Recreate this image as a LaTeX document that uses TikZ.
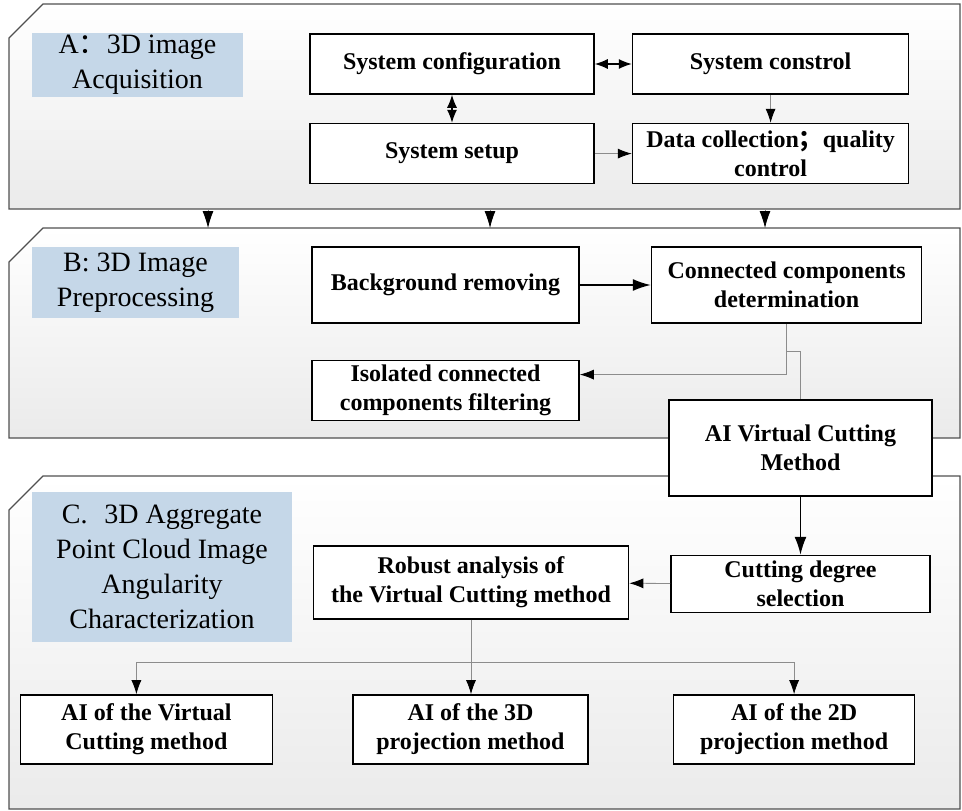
\documentclass[tikz,border=0pt]{standalone}
\usepackage{fontspec}
\setmainfont{Liberation Serif}
\newfontfamily\cjk{Noto Sans CJK SC}
\usetikzlibrary{positioning}
\usetikzlibrary{arrows.meta}
\usetikzlibrary{calc}
\definecolor{panelline}{RGB}{80,80,80}
\definecolor{labfill}{RGB}{197,215,232}
\definecolor{wiregray}{RGB}{140,140,140}

\begin{document}
\begin{tikzpicture}[x=1pt, y=-1pt,
	panel/.style={draw=panelline, line width=1.3pt, top color=white, bottom color=black!8},
	tag/.style={fill=labfill, align=center, inner sep=0pt, font=\fontsize{28}{35}\selectfont},
	box/.style={draw, fill=white, line width=1.6pt, align=center, inner sep=0pt, font=\fontsize{24}{29}\selectfont\bfseries},
	wire/.style={draw=wiregray, line width=0.8pt, -{Latex[length=14pt, width=10pt, color=black]}},
	plain/.style={draw=wiregray, line width=0.8pt},
	drop/.style={draw=wiregray, line width=0.8pt, -{Latex[length=17pt, width=11pt, color=black]}},
	strong/.style={line width=1.6pt, -{Latex[length=18pt, width=12pt]}},
	both/.style={line width=1.2pt, {Latex[length=13pt, width=10pt]}-{Latex[length=13pt, width=10pt]}}]
	\useasboundingbox (0,0) rectangle (962,811);
	% panels
	\path[panel] (9,38) -- (43,4) -- (960,4) -- (960,209) -- (9,209) -- cycle;
	\path[panel] (9,262) -- (43,228) -- (960,228) -- (960,438) -- (9,438) -- cycle;
	\path[panel] (9,510) -- (43,476) -- (960,476) -- (960,809) -- (9,809) -- cycle;
	\coordinate (pAbot) at (0,209);
	\node[tag, minimum width=211pt, minimum height=64pt] (tA) at (137.5,65) {A{\cjk ：}3D image\\Acquisition};
	\node[tag, minimum width=207pt, minimum height=71pt] (tB) at (135.5,282.5) {B: 3D Image\\Preprocessing};
	\node[tag, minimum width=260pt, minimum height=150pt] (tC) at (162,567) {C.\hspace{0.6em}3D Aggregate\\Point Cloud Image\\Angularity\\Characterization};
	% A
	\node[box, minimum width=284pt, minimum height=60pt] (conf) at (452,64) {System configuration};
	\node[box, minimum width=276pt, minimum height=60pt, right=37pt of conf] (ctrl) {System constrol};
	\node[box, minimum width=284pt, minimum height=60pt, below=28pt of conf] (setup) {System setup};
	\node[box, minimum width=276pt, minimum height=60pt, below=28pt of ctrl] (datacol) {Data collection{\cjk ；}quality\\control};
	% B
	\node[box, minimum width=267pt, minimum height=76pt] (bgrem) at (445.5,285) {Background removing};
	\node[box, minimum width=270pt, minimum height=76pt, right=71pt of bgrem] (conncomp) {Connected components\\determination};
	\node[box, minimum width=267pt, minimum height=60pt, below=36pt of bgrem] (isolated) {Isolated connected\\components filtering};
	\node[box, minimum width=263pt, minimum height=96pt] (aivc) at (800.5,448) {AI Virtual Cutting\\Method};
	% C
	\node[box, minimum width=259pt, minimum height=57pt, below=58pt of aivc] (cutdeg) {Cutting degree\\selection};
	\node[box, minimum width=315pt, minimum height=73pt] (robust) at (471,582.5) {Robust analysis of\\the Virtual Cutting method};
	\node[box, minimum width=235pt, minimum height=69pt] (ai3d) at (470.5,729.5) {AI of the 3D\\projection method};
	\node[box, minimum width=252pt, minimum height=69pt, left=79pt of ai3d] (aivcm) {AI of the Virtual\\Cutting method};
	\node[box, minimum width=241pt, minimum height=69pt, right=84pt of ai3d] (ai2d) {AI of the 2D\\projection method};

	\draw[both] (conf) -- (ctrl);
	\draw[both] (conf) -- (setup);
	\draw[wire] (ctrl) -- (datacol);
	\draw[wire] (setup) -- (datacol);
	\foreach \x [count=\i] in {208,490,765} {
		\coordinate (drop\i) at (\x,228);
		\draw[drop] (drop\i |- pAbot) -- (drop\i);
	}
	\draw[strong] (bgrem) -- (conncomp);
	\coordinate (tap) at ($(conncomp.south)+(0,28)$);
	\draw[wire] (conncomp.south) |- ([yshift=16pt]isolated.east);
	\draw[plain] (tap) -| (aivc.north);
	\draw[strong] (aivc.south) -- (aivc.south |- cutdeg.north);
	\draw[wire] (cutdeg) -- (robust);
	\coordinate (split) at ($(robust.south)+(0,43)$);
	\draw[wire] (robust.south) -- (robust.south |- ai3d.north);
	\draw[wire] (split) -| ([xshift=-10pt]aivcm.north);
	\draw[wire] (split) -| (ai2d.north);
\end{tikzpicture}
\end{document}
